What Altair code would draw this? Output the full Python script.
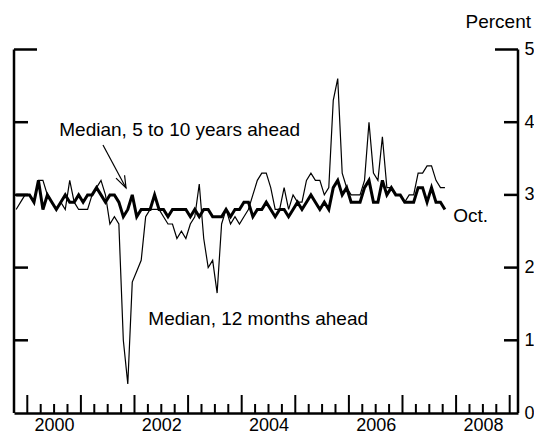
import altair as alt
import pandas as pd

# ---- data (monthly, Oct 1999 - Oct 2007) ----
start_year, start_month = 1999, 10
twelve_month = [
    2.8, 2.9, 3.0,                                               # 1999 Oct-Dec
    3.0, 2.9, 3.2, 3.2, 3.0, 2.9, 2.8, 2.9, 2.8, 3.2, 2.9, 2.8,  # 2000
    2.8, 2.8, 3.0, 3.1, 3.2, 3.0, 2.6, 2.7, 2.6, 1.0, 0.4, 1.8,  # 2001
    1.95, 2.1, 2.7, 2.8, 2.8, 2.8, 2.7, 2.6, 2.6, 2.4, 2.5, 2.4, # 2002
    2.6, 2.7, 3.15, 2.4, 2.0, 2.1, 1.65, 2.6, 2.8, 2.6, 2.7, 2.6, # 2003
    2.7, 2.8, 3.0, 3.2, 3.3, 3.3, 3.1, 2.8, 2.8, 3.1, 2.8, 3.0,  # 2004
    2.9, 2.9, 3.2, 3.3, 3.2, 3.2, 3.0, 3.1, 4.3, 4.6, 3.3, 3.1,  # 2005
    3.0, 3.0, 3.0, 3.2, 4.0, 3.3, 3.2, 3.8, 3.1, 3.1, 3.0, 3.0,  # 2006
    2.9, 3.0, 3.0, 3.3, 3.3, 3.4, 3.4, 3.2, 3.1, 3.1,            # 2007 Jan-Oct
]
five_to_ten = [
    3.0, 3.0, 3.0,
    3.0, 2.9, 3.2, 2.8, 3.0, 2.9, 2.8, 2.9, 3.0, 2.9, 2.9, 3.0,
    2.9, 3.0, 3.0, 3.1, 3.0, 2.9, 3.0, 3.0, 2.9, 2.7, 2.8, 3.0,
    2.7, 2.8, 2.8, 2.8, 3.0, 2.8, 2.8, 2.7, 2.8, 2.8, 2.8, 2.8,
    2.7, 2.8, 2.7, 2.8, 2.8, 2.7, 2.7, 2.7, 2.8, 2.7, 2.8, 2.8,
    2.9, 2.9, 2.7, 2.8, 2.8, 2.9, 2.8, 2.7, 2.8, 2.8, 2.7, 2.8,
    2.9, 2.8, 2.9, 3.0, 2.9, 2.8, 2.9, 2.8, 3.1, 3.2, 3.0, 3.1,
    2.9, 2.9, 2.9, 3.1, 3.2, 2.9, 2.9, 3.2, 3.0, 3.1, 3.0, 3.0,
    2.9, 2.9, 2.9, 3.1, 3.1, 2.9, 3.1, 2.9, 2.9, 2.8,
]
year_labels = [2000, 2002, 2004, 2006, 2008]
major_years = list(range(2000, 2010))
y_ticks = [1, 2, 3, 4]

n = len(twelve_month)
t = [start_year + (start_month - 1 + i + 0.5) / 12.0 for i in range(n)]
df = pd.DataFrame({"t": t, "twelve": twelve_month, "longrun": five_to_ten})

W, H = 504, 363.5
FONT = "Liberation Sans"
xs = alt.Scale(domain=[1999.752, 2009.155], nice=False, zero=False)
ys = alt.Scale(domain=[0, 5], nice=False, zero=False)

thin = alt.Chart(df).mark_line(color="black", strokeWidth=1.2).encode(
    x=alt.X("t:Q", scale=xs, title=None,
            axis=alt.Axis(values=[y + 0.5 for y in year_labels], labelExpr="floor(datum.value)",
                          ticks=False, grid=False, domain=True, domainColor="black",
                          domainWidth=2.5, labelFont=FONT, labelFontSize=18, labelColor="black",
                          labelPadding=3, labelFlush=False)),
    y=alt.Y("twelve:Q", scale=ys, title=None,
            axis=alt.Axis(orient="right", values=[0, 1, 2, 3, 4, 5], format="d", ticks=False,
                          grid=False, domain=False, labelFont=FONT, labelFontSize=18,
                          labelColor="black", labelPadding=6, labelFlush=False)),
)
thick = alt.Chart(df).mark_line(color="black", strokeWidth=3, strokeJoin="miter").encode(
    x=alt.X("t:Q", scale=xs, title=None),
    y=alt.Y("longrun:Q", scale=ys, title=None),
)

# frame verticals
vert = alt.Chart(pd.DataFrame({"side": ["l", "r"], "px": [0, W]})).mark_rule(
    color="black", strokeWidth=2.5).encode(
    x=alt.X("px:Q", scale=None), y=alt.datum(0, scale=ys), y2=alt.datum(5))

# inward y ticks
yt = pd.DataFrame({"v": y_ticks})
ytick_l = alt.Chart(yt).mark_rule(color="black", strokeWidth=2.5).encode(
    y=alt.Y("v:Q", scale=ys), x=alt.value(0), x2=alt.value(14))
ytick_r = alt.Chart(yt).mark_rule(color="black", strokeWidth=2.5).encode(
    y=alt.Y("v:Q", scale=ys), x=alt.value(W - 14), x2=alt.value(W))
cap = pd.DataFrame({"v": [5]})
cap_l = alt.Chart(cap).mark_rule(color="black", strokeWidth=2.5).encode(
    y=alt.Y("v:Q", scale=ys), x=alt.value(0), x2=alt.value(23))
cap_r = alt.Chart(cap).mark_rule(color="black", strokeWidth=2.5).encode(
    y=alt.Y("v:Q", scale=ys), x=alt.value(W - 23), x2=alt.value(W))

# inward x ticks
major = pd.DataFrame({"t": [float(y) for y in major_years]})
minor = pd.DataFrame({"t": [y + q for y in range(2000, 2009) for q in (0.25, 0.5, 0.75)]})
xmaj = alt.Chart(major).mark_rule(color="black", strokeWidth=2).encode(
    x=alt.X("t:Q", scale=xs), y=alt.value(H), y2=alt.value(H - 18))
xmin = alt.Chart(minor).mark_rule(color="black", strokeWidth=2).encode(
    x=alt.X("t:Q", scale=xs), y=alt.value(H), y2=alt.value(H - 9))

# annotations
ann = pd.DataFrame({
    "t": [2000.597, 2002.258, 2007.948, 2008.787],
    "v": [3.81, 1.217, 2.631, 5.292],
    "label": ["Median, 5 to 10 years ahead", "Median, 12 months ahead", "Oct.", "Percent"],
    "align": ["left", "left", "left", "center"],
})
txt_left = alt.Chart(ann[ann["align"] == "left"]).mark_text(
    font=FONT, fontSize=19, align="left", baseline="alphabetic", color="black").encode(
    x=alt.X("t:Q", scale=xs), y=alt.Y("v:Q", scale=ys), text="label:N")
txt_center = alt.Chart(ann[ann["align"] == "center"]).mark_text(
    font=FONT, fontSize=19, align="center", baseline="alphabetic", color="black").encode(
    x=alt.X("t:Q", scale=xs), y=alt.Y("v:Q", scale=ys), text="label:N")

# arrow: shaft and open head
arrow = pd.DataFrame({
    "t": [2001.412, 2001.842, 2001.655, 2001.842, 2001.815],
    "v": [3.686, 3.095, 3.23, 3.095, 3.27],
    "part": ["shaft", "shaft", "head", "head", "head"],
    "order": [0, 1, 0, 1, 2],
})
arr = alt.Chart(arrow).mark_line(color="black", strokeWidth=1.2).encode(
    x=alt.X("t:Q", scale=xs), y=alt.Y("v:Q", scale=ys), detail="part:N", order="order:Q")

chart = alt.layer(
    thin, thick, vert, ytick_l, ytick_r, cap_l, cap_r, xmaj, xmin, txt_left, txt_center, arr
).properties(
    width=W, height=H,
    autosize=alt.AutoSizeParams(type="none"),
    padding={"left": 6, "top": 41.5, "right": 16, "bottom": 21},
    background="white",
).configure_view(stroke=None)

chart.save("out.html", embed_options={"renderer": "svg", "actions": False})
